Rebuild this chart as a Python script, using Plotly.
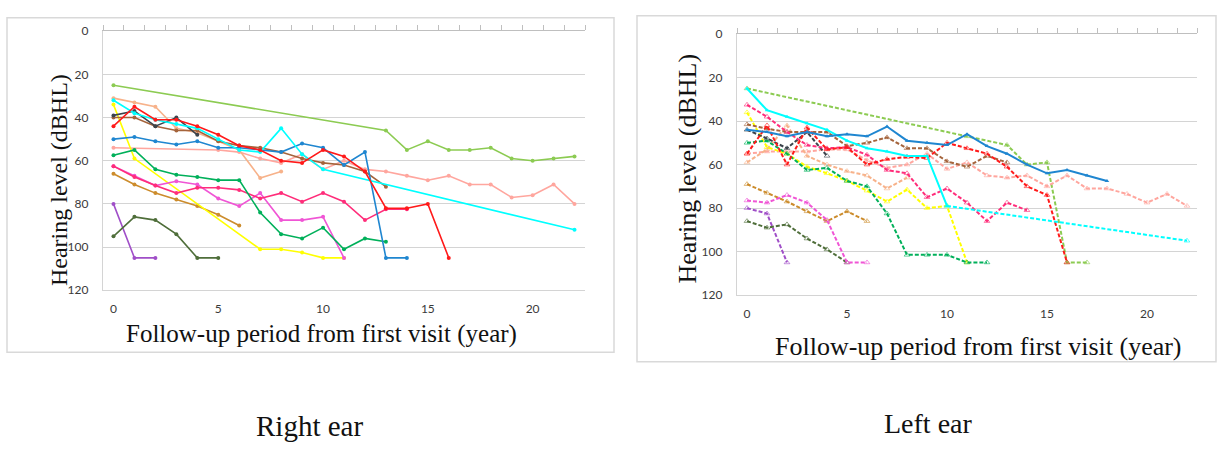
import plotly.graph_objects as go

N = None
YEARS = list(range(23))
Y_TICKS = [0, 20, 40, 60, 80, 100, 120]
X_TICKS = [0, 5, 10, 15, 20]
X_BOUNDS = [k - 0.5 for k in range(24)]

# ---------------- Right ear (dB HL by follow-up year) ----------------
R_LIGHTGREEN = [25, N, N, N, N, N, N, N, N, N, N, N, N, 46, 55, 51, 55, 55, 54, 59, 60, 59, 58]
R_PEACH = [31, 33, 35, 45, 47, 51, 55, 68, 65]
R_PINK = [54, N, N, N, N, 55, 56, 59, 61, 57, 64, 60, 64, 65, 67, 69, 67, 71, 71, 77, 76, 71, 80]
R_CYAN = [32, 38, 41, 43, 45, 50, 55, 56, 45, 57, 64, N, N, N, N, N, N, N, N, N, N, N, 92]
R_RED = [44, 35, 41, 41, 44, 48, 53, 55, 60, 61, 55, 58, 65, 82, 82, 80, 105]
R_GREY = [39, 37, 44, 40, 48]
R_BROWN = [40, 40, 44, 46, 46, 51, 53, 54, 56, 59, 61, 62, 65, 72]
R_BLUE = [50, 49, 51, 52.5, 51, 54, 54, 55, 56, 52, 54, 62, 56, 105, 105]
R_GREEN = [57.5, 55, 64, 66.5, 67.5, 69, 69, 84, 94, 96, 91, 101, 96, 97.5]
R_YELLOW = [34, 59, N, N, N, N, N, 101, 101, 102.5, 105, 105]
R_HOTPINK = [62.5, 67.5, 71.5, 75, 72.5, 72.5, 73.5, 77.5, 75, 79, 75, 79, 87.5, 82.5, 82.5]
R_ORCHID = [62.5, 67, 71.5, 69.5, 71, 77.5, 81, 75, 87.5, 87.5, 86, 105]
R_GOLD = [66, 71, 75, 78, 81, 85, 90]
R_PURPLE = [80, 105, 105]
R_DARKGREEN = [95, 86, 87.5, 94, 105, 105]

# ---------------- Left ear ----------------
L_LIGHTGREEN = [25, N, N, N, N, N, N, N, N, N, N, 47, N, 51, 60, 59, 105, 105]
L_BLUE = [44, 45, 47, 45, 47, 46, 47, 42.5, 49, 50, 51, 46, 51.5, 55, 60, 64, 62.5, 65, 67.5]
L_CYAN = [25, 35, 38, 41, 44, 49, 52.5, 54, 56, 56, 79]
L_CYAN_TAIL = [N, N, N, N, N, N, N, N, N, N, 79, N, N, N, N, N, N, N, N, N, N, N, 95]
L_HOTPINK = [32.5, 38, 45, 51, 52.5, 52, 55.5, 62.5, 64, 75, 71, 77.5, 86, 77.5, 81]
L_BROWN = [41.5, 43.5, 45, 45, 45, 51.5, 50, 47.5, 52.5, 52.5, 58.5, 61, 56, 59]
L_GREY = [44, 48, 52.5, 45, 56]
L_RED = [55, 42, 60, 43, 53, 52, 60, 57.5, 56.5, 57, 50, 52.5, 55, 61, 70, 74, 105]
L_PEACH = [59, 53, 42, 56, 60, 63, 65, 71, 66]
L_PINK = [55, 54, 54, 54, 53, 53, 58, 61.5, 60, 55, 62, 59, 65, 66, 65, 70, 65, 71, 71, 73.5, 77.5, 73.5, 79]
L_GREEN = [50, 49, 55, 62.5, 61.5, 67.5, 70, 82.5, 101.5, 101.5, 101.5, 105, 105]
L_YELLOW = [36, 52, 55, 61, 64, 67.5, 72, 77, 71.5, 80, 79, 105]
L_GOLD = [69, 73, 77, 81.5, 86, 81.5, 86]
L_MAGENTA = [76.5, 77.5, 74, 77.5, 85.5, 105, 105]
L_PURPLE = [80, 82.5, 105]
L_DARKGREEN = [86, 89, 87.5, 94, 99, 105]

COL = dict(lightgreen="#8CCB52", peach="#F7B28A", pink="#FFA69E", cyan="#00FFFF",
           red="#FF1A1A", grey="#3C444C", brown="#A5643C", blue="#1F86D0",
           green="#00B05A", yellow="#FFFF00", hotpink="#FF2D7A", orchid="#F055D5",
           gold="#CC8C2C", purple="#A04FC8", darkgreen="#4F6E3A")

RIGHT = [
    (R_LIGHTGREEN, "lightgreen"), (R_PINK, "pink"), (R_PEACH, "peach"),
    (R_GOLD, "gold"), (R_PURPLE, "purple"), (R_DARKGREEN, "darkgreen"),
    (R_YELLOW, "yellow"), (R_ORCHID, "orchid"), (R_HOTPINK, "hotpink"),
    (R_GREEN, "green"), (R_BROWN, "brown"), (R_BLUE, "blue"),
    (R_GREY, "grey"), (R_CYAN, "cyan"), (R_RED, "red"),
]
LEFT_DASHED = [
    (L_LIGHTGREEN, "lightgreen"), (L_PINK, "pink"), (L_PEACH, "peach"),
    (L_GOLD, "gold"), (L_PURPLE, "purple"), (L_DARKGREEN, "darkgreen"),
    (L_MAGENTA, "orchid"), (L_YELLOW, "yellow"), (L_GREEN, "green"),
    (L_GREY, "grey"), (L_BROWN, "brown"), (L_HOTPINK, "hotpink"),
    (L_RED, "red"), (L_CYAN_TAIL, "cyan"),
]
LEFT_SOLID = [(L_CYAN, "cyan"), (L_BLUE, "blue")]

fig = go.Figure()

for vals, key in RIGHT:
    fig.add_trace(go.Scatter(
        x=YEARS[:len(vals)], y=vals, mode="lines+markers", connectgaps=True,
        line=dict(color=COL[key], width=1.6),
        marker=dict(color=COL[key], size=4, symbol="circle"),
        xaxis="x", yaxis="y", showlegend=False, hoverinfo="skip"))

for vals, key in LEFT_DASHED:
    fig.add_trace(go.Scatter(
        x=YEARS[:len(vals)], y=vals, mode="lines+markers", connectgaps=True,
        line=dict(color=COL[key], width=2, dash="4px,2px"),
        marker=dict(color=COL[key], size=5, symbol="triangle-up-open", opacity=0.6),
        xaxis="x2", yaxis="y2", showlegend=False, hoverinfo="skip"))

for vals, key in LEFT_SOLID:
    fig.add_trace(go.Scatter(
        x=YEARS[:len(vals)], y=vals, mode="lines+markers", connectgaps=True,
        line=dict(color=COL[key], width=2),
        marker=dict(color=COL[key], size=4, symbol="triangle-up"),
        xaxis="x2", yaxis="y2", showlegend=False, hoverinfo="skip"))

# invisible traces so the top tick-axes are drawn
fig.add_trace(go.Scatter(x=[0], y=[0], mode="markers", marker=dict(opacity=0),
                         xaxis="x3", yaxis="y", showlegend=False, hoverinfo="skip"))
fig.add_trace(go.Scatter(x=[0], y=[0], mode="markers", marker=dict(opacity=0),
                         xaxis="x4", yaxis="y2", showlegend=False, hoverinfo="skip"))

W, H = 1217, 450
def px(x):
    return x / W
def py(y):
    return 1 - y / H

tickfont = dict(family="Lato, Open Sans, sans-serif", size=12, color="#3A3A3A")
grid = "#D4D4D4"

def xmain(dom):
    return dict(domain=dom, range=[-0.5, 22.5], tickmode="array", tickvals=X_TICKS,
                ticktext=[str(v) for v in X_TICKS], showgrid=False, zeroline=False,
                showline=True, linecolor=grid, linewidth=1.2, ticks="",
                tickfont=tickfont, ticklabelstandoff=7, fixedrange=True)

def xtop(over, anchor):
    return dict(overlaying=over, side="top", anchor=anchor, range=[-0.5, 22.5],
                tickmode="array", tickvals=X_BOUNDS, showticklabels=False,
                ticks="outside", ticklen=5, tickcolor="#BFBFBF", tickwidth=1,
                showline=True, linecolor="#BFBFBF", linewidth=1, showgrid=False,
                zeroline=False)

def ymain(dom, anchor):
    return dict(domain=dom, anchor=anchor, range=[120, 0], tickmode="array",
                tickvals=Y_TICKS, ticktext=[str(v) for v in Y_TICKS],
                showgrid=True, gridcolor=grid, gridwidth=1.2, zeroline=False,
                showline=True, linecolor=grid, linewidth=1.2, ticks="",
                tickfont=tickfont, ticklabelstandoff=11)

serif = "Liberation Serif, Times New Roman, serif"

def note(text, x, y, size, angle=0):
    return dict(text=text, x=px(x), y=py(y), xref="paper", yref="paper",
                xanchor="center", yanchor="middle", textangle=angle,
                showarrow=False, font=dict(family=serif, size=size, color="#111"))

fig.update_layout(
    width=W, height=H, margin=dict(l=0, r=0, t=0, b=0, pad=0),
    paper_bgcolor="white", plot_bgcolor="white", showlegend=False,
    xaxis=dict(xmain([px(103), px(585)]), anchor="y"),
    yaxis=ymain([py(292), py(24)], "x"),
    xaxis2=dict(xmain([px(737), px(1197)]), anchor="y2"),
    yaxis2=ymain([py(297), py(27)], "x2"),
    xaxis3=xtop("x", "y"),
    xaxis4=xtop("x2", "y2"),
    shapes=[
        dict(type="rect", xref="paper", yref="paper", x0=px(7), x1=px(614),
             y0=py(356), y1=py(10), line=dict(color="#D9D9D9", width=1.5)),
        dict(type="rect", xref="paper", yref="paper", x0=px(637), x1=px(1216),
             y0=py(366), y1=py(8), line=dict(color="#D9D9D9", width=1.5)),
    ],
    annotations=[
        note("Hearing level (dBHL)", 59, 178, 24, -90),
        note("Follow-up period from first visit (year)", 321, 337, 25),
        note("Hearing level (dBHL)", 687, 166, 26, -90),
        note("Follow-up period from first visit (year)", 978, 350, 26),
        note("Right ear", 309, 432, 29),
        note("Left ear", 928, 430, 28),
    ],
)

fig.write_html("out.html")
